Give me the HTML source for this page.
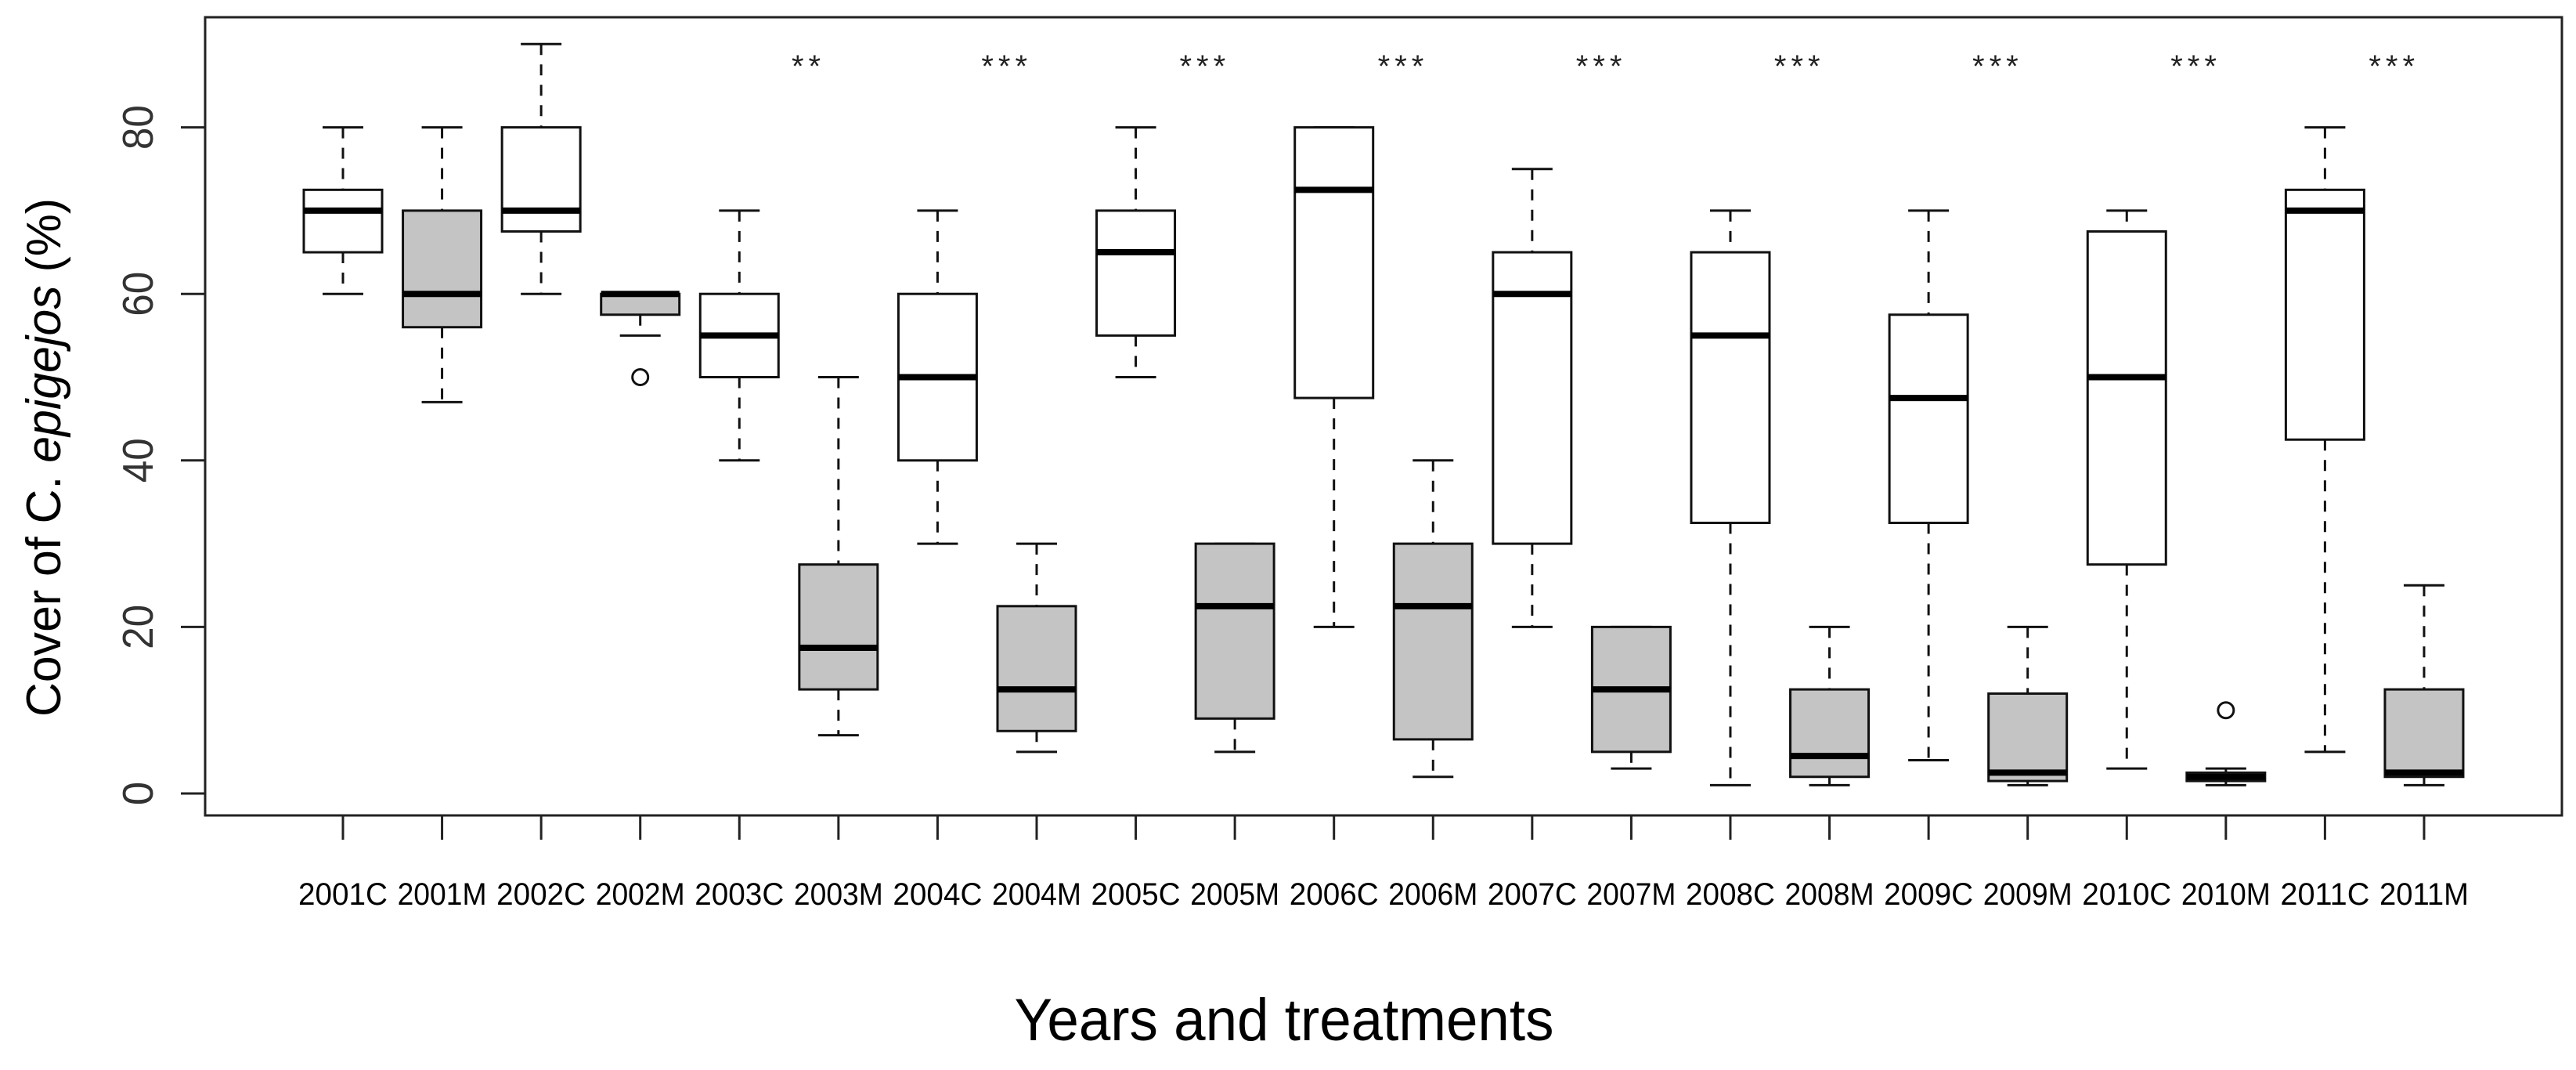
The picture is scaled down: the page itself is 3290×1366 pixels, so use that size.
<!DOCTYPE html>
<html><head><meta charset="utf-8"><style>
html,body{margin:0;padding:0;background:#fff;}
svg{display:block;font-family:"Liberation Sans",Arial,sans-serif;}
</style></head><body>
<svg id="chart" width="3290" height="1366" viewBox="0 0 3290 1366" xmlns="http://www.w3.org/2000/svg">
<rect x="0" y="0" width="3290" height="1366" fill="#fff"/>
<g id="marks"></g>
<rect x="262" y="22" width="3010" height="1019" fill="none" stroke="#222" stroke-width="3"/>
<g id="yaxis"></g>
<g id="xaxis"></g>
<text transform="translate(77,584) rotate(-90)" text-anchor="middle" font-size="62" fill="#000" textLength="662" lengthAdjust="spacingAndGlyphs">Cover of C. <tspan font-style="italic">epigejos</tspan> (%)</text>
<text x="1640" y="1328" text-anchor="middle" font-size="76" fill="#000" textLength="689" lengthAdjust="spacingAndGlyphs">Years and treatments</text>
</svg>
<script>
const categories=["2001C","2001M","2002C","2002M","2003C","2003M","2004C","2004M","2005C","2005M","2006C","2006M","2007C","2007M","2008C","2008M","2009C","2009M","2010C","2010M","2011C","2011M"];
const lowWhisker=[60,47,60,55,40,7,30,5,50,5,20,2,20,3,1,1,4,1,3,1,5,1];
const q1=[65,56,67.5,57.5,50,12.5,40,7.5,55,9,47.5,6.5,30,5,32.5,2,32.5,1.5,27.5,1.5,42.5,2];
const medians=[70,60,70,60,55,17.5,50,12.5,65,22.5,72.5,22.5,60,12.5,55,4.5,47.5,2.5,50,2,70,2.5];
const q3=[72.5,70,80,60,60,27.5,60,22.5,70,30,80,30,65,20,65,12.5,57.5,12,67.5,2.5,72.5,12.5];
const highWhisker=[80,80,90,60,70,50,70,30,80,30,80,40,75,20,70,20,70,20,70,3,80,25];
const outlierIndex=[3,19];
const outlierValues=[50,10];
const yTicks=[0,20,40,60,80];
const sigYears=[2003,2004,2005,2006,2007,2008,2009,2010,2011];
const sigLabels=["**","***","***","***","***","***","***","***","***"];

const NS="http://www.w3.org/2000/svg";
function x(i){return 438+126.57*i;}
function y(v){return 1013-v*10.63;}
function mk(parent,tag,attrs){const e=document.createElementNS(NS,tag);for(const k in attrs)e.setAttribute(k,attrs[k]);parent.appendChild(e);return e;}
const marks=document.getElementById('marks');
const xa=document.getElementById('xaxis');
const ya=document.getElementById('yaxis');
const hw=50,cw=26;
categories.forEach((c,i)=>{
  const cx=x(i);
  const fill=c.endsWith('M')?'#c4c4c4':'#fff';
  const g=mk(marks,'g',{});
  
  
  mk(g,'line',{x1:cx,x2:cx,y1:y(highWhisker[i]),y2:y(q3[i]),stroke:'#111','stroke-width':3,'stroke-dasharray':'14,12'});
  mk(g,'line',{x1:cx,x2:cx,y1:y(q1[i]),y2:y(lowWhisker[i]),stroke:'#111','stroke-width':3,'stroke-dasharray':'14,12'});
  mk(g,'line',{x1:cx-cw,x2:cx+cw,y1:y(highWhisker[i]),y2:y(highWhisker[i]),stroke:'#111','stroke-width':3});
  mk(g,'line',{x1:cx-cw,x2:cx+cw,y1:y(lowWhisker[i]),y2:y(lowWhisker[i]),stroke:'#111','stroke-width':3});
  mk(g,'rect',{x:cx-hw,y:y(q3[i]),width:2*hw,height:Math.max(0,y(q1[i])-y(q3[i])),fill:fill,stroke:'#111','stroke-width':3});
  mk(g,'line',{x1:cx-hw,x2:cx+hw,y1:y(medians[i]),y2:y(medians[i]),stroke:'#000','stroke-width':8});
  const t=mk(xa,'line',{x1:cx,x2:cx,y1:1041,y2:1072,stroke:'#222','stroke-width':3});
  
  
  const lb=mk(xa,'text',{x:cx,y:1155,'text-anchor':'middle','font-size':40,fill:'#000',textLength:114,lengthAdjust:'spacingAndGlyphs'});
  lb.textContent=c;
  
  
});
outlierIndex.forEach((idx,k)=>{
  const o=mk(marks,'circle',{cx:x(idx),cy:y(outlierValues[k]),r:10,fill:'none',stroke:'#111','stroke-width':3});
  
  
});
yTicks.forEach(v=>{
  const t=mk(ya,'line',{x1:231,x2:262,y1:y(v),y2:y(v),stroke:'#222','stroke-width':3});
  
  
  const l=mk(ya,'text',{transform:`translate(195,${y(v)}) rotate(-90)`,'text-anchor':'middle','font-size':55,fill:'#333'});
  if(v>0){l.setAttribute('textLength',57);l.setAttribute('lengthAdjust','spacingAndGlyphs');}
  l.textContent=v;
  
  
});
sigYears.forEach((yr,k)=>{
  const ci=categories.indexOf(yr+'C');
  const s=mk(marks,'text',{x:(x(ci)+x(ci+1))/2+25,y:y(88.5)+26,'text-anchor':'middle','font-size':40,fill:'#222','letter-spacing':'6'});
  s.textContent=sigLabels[k];
  
  
});
</script>
</body></html>
